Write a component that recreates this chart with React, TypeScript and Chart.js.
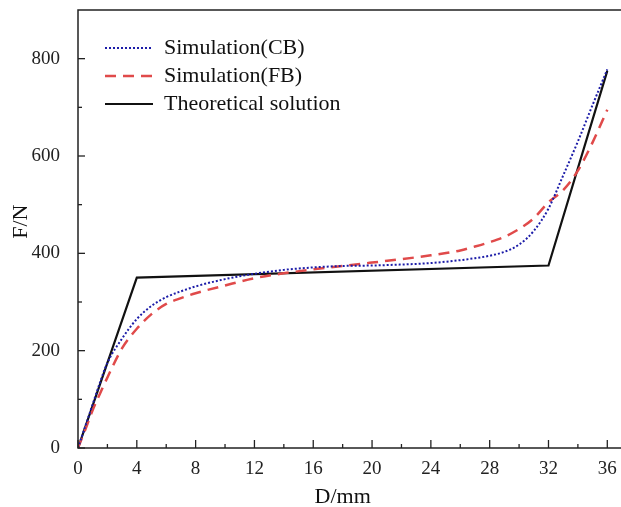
import React, { useEffect, useRef } from "react";
import { Chart, registerables } from "chart.js";

Chart.register(...registerables);

// D/mm sample positions for the simulated curves
const simX = [0, 0.5, 1, 1.5, 2, 3, 4, 5, 6, 7, 8, 10, 12, 14, 16, 18, 20, 22, 24, 26, 27, 28, 29, 30, 31, 32, 33, 34, 35, 36];
// Simulation(CB) F/N
const cbY = [0, 45, 90, 135, 175, 225, 265, 292, 310, 322, 332, 347, 358, 366, 371, 374, 375, 377, 380, 386, 390, 395, 403, 418, 446, 492, 560, 630, 705, 778];
// Simulation(FB) F/N
const fbY = [0, 38, 78, 112, 145, 205, 245, 275, 296, 308, 318, 334, 349, 359, 367, 374, 381, 388, 396, 406, 414, 423, 434, 450, 472, 505, 530, 570, 628, 695];
// Theoretical solution
const thX = [0, 4, 32, 36];
const thY = [0, 350, 375, 775];

const xTicks = [0, 4, 8, 12, 16, 20, 24, 28, 32, 36];
const yTicks = [0, 200, 400, 600, 800];
const seriesNames = ["Simulation(CB)", "Simulation(FB)", "Theoretical solution"];

const FONT = "'Liberation Serif', 'Times New Roman', serif";

const framePlugin = {
  id: "frameTicks",
  afterDraw(chart: any) {
    const { ctx, chartArea, scales } = chart;
    const xs = scales.x;
    const ys = scales.y;
    const { left, right, top, bottom } = chartArea;
    ctx.save();
    ctx.strokeStyle = "#222";
    ctx.lineWidth = 1.5;
    ctx.strokeRect(left, top, right - left, bottom - top);
    ctx.lineWidth = 1.3;
    for (let v = 0; v <= 36; v += 2) {
      const px = xs.getPixelForValue(v);
      const len = v % 4 === 0 ? 8 : 4;
      ctx.beginPath();
      ctx.moveTo(px, bottom);
      ctx.lineTo(px, bottom - len);
      ctx.stroke();
    }
    for (let v = 0; v <= 800; v += 100) {
      const py = ys.getPixelForValue(v);
      const len = v % 200 === 0 ? 7 : 4;
      ctx.beginPath();
      ctx.moveTo(left, py);
      ctx.lineTo(left + len, py);
      ctx.stroke();
    }
    ctx.fillStyle = "#111";
    ctx.font = `22px ${FONT}`;
    ctx.textAlign = "center";
    ctx.textBaseline = "middle";
    ctx.fillText("D/mm", xs.getPixelForValue(18), 497);
    ctx.save();
    ctx.translate(21, ys.getPixelForValue(465));
    ctx.rotate(-Math.PI / 2);
    ctx.fillText("F/N", 0, 0);
    ctx.restore();
    const rows = [48, 76, 104];
    chart.data.datasets.forEach((ds: any, i: number) => {
      const y = rows[i];
      ctx.save();
      ctx.strokeStyle = ds.borderColor;
      ctx.lineWidth = ds.borderWidth;
      ctx.setLineDash(ds.borderDash || []);
      ctx.beginPath();
      ctx.moveTo(105, y);
      ctx.lineTo(153, y);
      ctx.stroke();
      ctx.restore();
      ctx.fillStyle = "#111";
      ctx.font = `22px ${FONT}`;
      ctx.textAlign = "left";
      ctx.textBaseline = "middle";
      ctx.fillText(ds.label, 164, y);
    });
    ctx.restore();
  },
};

export default function App() {
  const ref = useRef<HTMLCanvasElement | null>(null);
  useEffect(() => {
    if (!ref.current) return;
    const chart = new Chart(ref.current, {
      type: "line",
      data: {
        datasets: [
          {
            label: seriesNames[0],
            data: simX.map((x, i) => ({ x, y: cbY[i] })),
            borderColor: "#1c1ca8",
            borderWidth: 2,
            borderDash: [2, 2],
            pointRadius: 0,
            cubicInterpolationMode: "monotone",
            fill: false,
          },
          {
            label: seriesNames[1],
            data: simX.map((x, i) => ({ x, y: fbY[i] })),
            borderColor: "#e04a4a",
            borderWidth: 2.5,
            borderDash: [11, 7],
            pointRadius: 0,
            cubicInterpolationMode: "monotone",
            fill: false,
          },
          {
            label: seriesNames[2],
            data: thX.map((x, i) => ({ x, y: thY[i] })),
            borderColor: "#111111",
            borderWidth: 2.2,
            pointRadius: 0,
            tension: 0,
            fill: false,
          },
        ],
      },
      options: {
        animation: false,
        responsive: false,
        devicePixelRatio: 1,
        layout: { padding: { top: 0, right: 8, left: 0, bottom: 0 } },
        plugins: { legend: { display: false }, tooltip: { enabled: false } },
        scales: {
          x: {
            type: "linear",
            min: 0,
            max: 37,
            grid: { display: false },
            border: { display: false },
            afterFit: (s: any) => { s.height = 59; },
            afterBuildTicks: (s: any) => { s.ticks = xTicks.map((v) => ({ value: v })); },
            ticks: {
              padding: 2,
              color: "#222",
              font: { family: FONT, size: 19 },
              maxRotation: 0,
              autoSkip: false,
            },
          },
          y: {
            type: "linear",
            min: 0,
            max: 900,
            grid: { display: false },
            border: { display: false },
            afterFit: (s: any) => { s.width = 78; s.paddingTop = 10; s.paddingBottom = 0; },
            afterBuildTicks: (s: any) => { s.ticks = yTicks.map((v) => ({ value: v })); },
            ticks: {
              padding: 10,
              color: "#222",
              font: { family: FONT, size: 19 },
            },
          },
        },
      },
      plugins: [framePlugin],
    } as any);
    return () => chart.destroy();
  }, []);
  return (
    <div style={{ position: "fixed", left: 0, top: 0, width: 621, height: 507, overflow: "hidden", background: "#fff" }}>
      <canvas ref={ref} width={630} height={507} style={{ width: 630, height: 507, display: "block" }} />
    </div>
  );
}
